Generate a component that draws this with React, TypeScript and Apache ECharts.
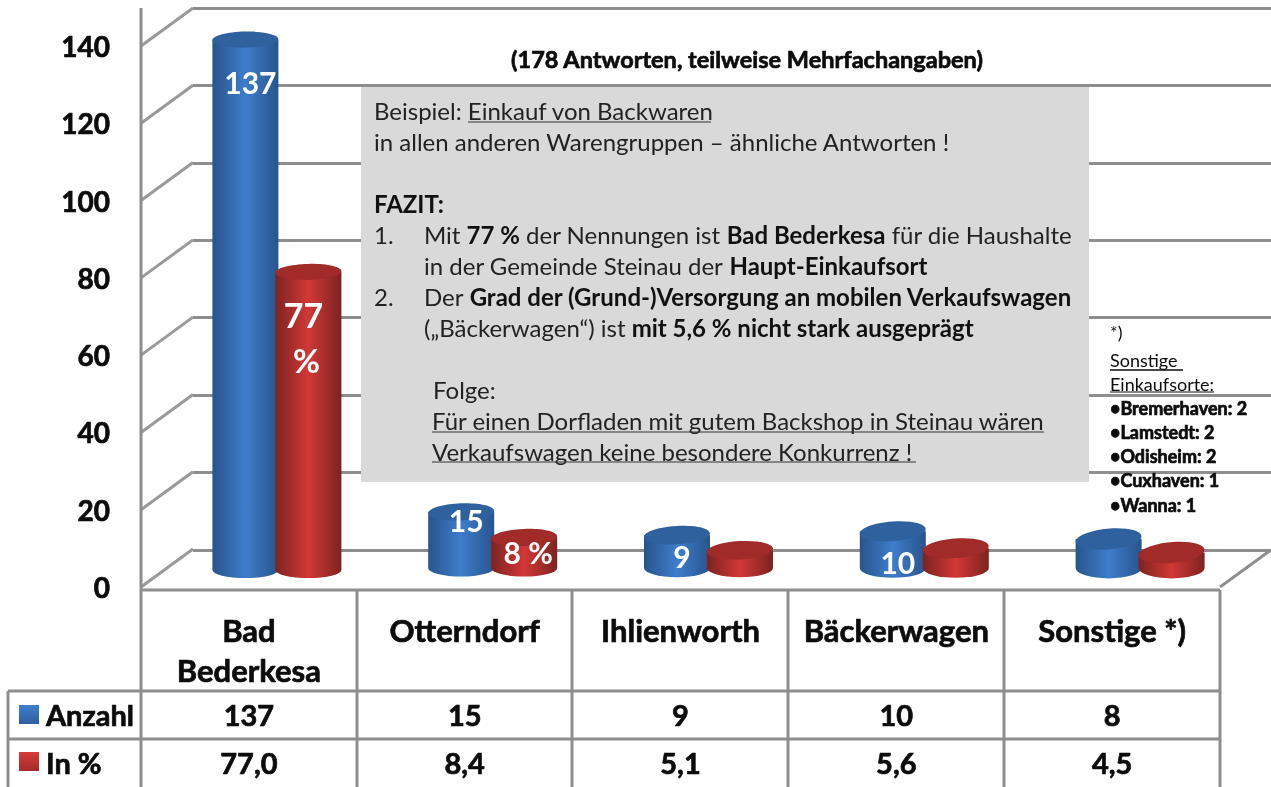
import React, { useEffect, useRef } from "react";
import * as echarts from "echarts";

const categories = ["Bad\nBederkesa", "Otterndorf", "Ihlienworth", "Bäckerwagen", "Sonstige *)"];
const anzahl = [137, 15, 9, 10, 8];
const inProzent = [77.0, 8.4, 5.1, 5.6, 4.5];
const anzahlText = ["137", "15", "9", "10", "8"];
const prozentText = ["77,0", "8,4", "5,1", "5,6", "4,5"];
const anzahlBarLabels = ["137", "15", "9", "10", ""];
const prozentBarLabels = ["77", "8 %", "", "", ""];
const yTicks = [0, 20, 40, 60, 80, 100, 120, 140];
const seriesNames = ["Anzahl", "In %"];
const subtitle = "(178 Antworten, teilweise Mehrfachangaben)";

const FONT = "Lato, 'Noto Sans', sans-serif";
const GREY = "#8e8e8e";
const INK = "#0c0c0c";
const W = 1271;
const H = 787;

// layout of the pseudo-3D planes
const FRONT = { left: 141, right: 1220, top: 46, zero: 587 };
const BARS = { left: 169, width: 1079, top: 28, zero: 570 };
const BACK = { left: 193, top: 8, zero: 550 };
const BAR_W = 66;

const vLines = [141, 357, 572, 788, 1004, 1220];
const THICK_AXIS = { textBorderColor: INK, textBorderWidth: 0.7 };
const THICK = { stroke: INK, lineWidth: 0.7 };

function cylinder(colors: { edge: string; mid: string; top: string }, side: -1 | 1, labels: string[], labelDy: number[]) {
  return (params: any, api: any) => {
    const i = api.value(0);
    const v = api.value(1);
    const [cx0, yTop] = api.coord([i, v]);
    const yBase = api.coord([i, 0])[1] - (i > 0 ? 2 : 0);
    const cx = cx0 + side * (BAR_W / 2 - 1.5);
    const rx = BAR_W / 2;
    const ry = 8 + i * 0.6;
    const tilt = 0.02 + i * 0.018;
    const x0 = cx - rx;
    const x1 = cx + rx;
    const fill = new echarts.graphic.LinearGradient(0, 0, 1, 0, [
      { offset: 0, color: colors.edge },
      { offset: 0.5, color: colors.mid },
      { offset: 1, color: colors.edge },
    ]);
    const children: any[] = [
      {
        type: "path",
        shape: {
          pathData: `M${x0},${yTop} L${x0},${yBase} A${rx},${ry} 0 0 0 ${x1},${yBase} L${x1},${yTop} Z`,
          x: x0,
          y: yTop,
          width: 2 * rx,
          height: yBase - yTop + ry,
          layout: "cover",
        },
        style: { fill },
      },
      {
        type: "ellipse",
        x: cx,
        y: yTop,
        rotation: tilt,
        shape: { cx: 0, cy: 0, rx, ry },
        style: { fill: colors.top },
      },
    ];
    const lab = labels[i];
    if (lab) {
      const big = lab === "77";
      children.push({
        type: "text",
        style: {
          text: lab,
          x: cx + (big ? -5 : side === 1 ? 4 : 5),
          y: yTop + labelDy[i],
          fill: "#ffffff",
          font: `bold ${big ? 34 : 30}px ${FONT}`,
          align: "center",
          verticalAlign: "middle",
        },
      });
      if (big) {
        children.push({
          type: "text",
          style: {
            text: "%",
            x: cx - 2,
            y: yTop + labelDy[i] + 45,
            fill: "#ffffff",
            font: `bold 33px ${FONT}`,
            align: "center",
            verticalAlign: "middle",
          },
        });
      }
    }
    return { type: "group", children };
  };
}

function App() {
  const ref = useRef<HTMLDivElement>(null);
  useEffect(() => {
    document.body.style.margin = "0";
    document.body.style.overflow = "hidden";
    const chart = echarts.init(ref.current!, undefined, { renderer: "svg", width: W, height: H });

    const line = (x1: number, y1: number, x2: number, y2: number, w = 3, color = GREY, z = 6) => ({
      type: "line",
      z,
      shape: { x1, y1, x2, y2 },
      style: { stroke: color, lineWidth: w },
    });
    const txt = (text: string, x: number, y: number, font: string, extra: any = {}) => ({
      type: "text",
      z: 8,
      style: { text, x, y, font, fill: INK, verticalAlign: "middle", ...extra },
    });
    const bodySize = 24;
    const n = `${bodySize}px ${FONT}`;
    const rich = {
      n: { font: n, fill: "#222222" },
      b: { font: `bold ${bodySize}px ${FONT}`, fill: "#111111" },
    };
    const para = (s: string, x: number, y: number) => ({
      type: "text",
      z: 8,
      style: { text: s, x, y, rich, verticalAlign: "middle", fill: "#222222", font: n },
    });
    const noteFont = `18px ${FONT}`;
    const noteBold = `bold 18px ${FONT}`;

    const graphic: any[] = [
      // axis frame and table rules
      line(141, 8, 141, H),
      line(141, 590, 1220, 590),
      line(1220, 587, W, 550),
      ...vLines.slice(1).map((x) => line(x, 590, x, H)),
      line(8, 691, 1220, 691),
      line(8, 739, 1220, 739),
      line(8, 691, 8, H),
      // grey note
      {
        type: "rect",
        z: 5,
        shape: { x: 361, y: 87, width: 728, height: 395 },
        style: { fill: "#d9d9d9" },
      },
      txt(subtitle, 747, 59, `bold 23.5px ${FONT}`, { align: "center", ...THICK }),
      para("{n|Beispiel: Einkauf von Backwaren}", 374, 110),
      para("{n|in allen anderen Warengruppen – ähnliche Antworten !}", 374, 141),
      para("{b|FAZIT:}", 374, 203),
      para("{n|1.}", 374, 234),
      para("{n|Mit }{b|77 %}{n| der Nennungen ist }{b|Bad Bederkesa}{n| für die Haushalte}", 424, 234),
      para("{n|in der Gemeinde Steinau der }{b|Haupt-Einkaufsort}", 424, 265),
      para("{n|2.}", 374, 296),
      para("{n|Der }{b|Grad der (Grund-)Versorgung an mobilen Verkaufswagen}", 424, 296),
      para("{n|(„Bäckerwagen“) ist }{b|mit 5,6 % nicht stark ausgeprägt}", 424, 327),
      para("{n|Folge:}", 433, 389),
      para("{n|Für einen Dorfladen mit gutem Backshop in Steinau wären}", 432, 420),
      para("{n|Verkaufswagen keine besondere Konkurrenz !}", 432, 451),
      line(468, 122, 711, 122, 1, "#333333", 8),
      line(432, 432, 1044, 432, 1, "#333333", 8),
      line(432, 462, 916, 462, 1, "#333333", 8),
      // footnote
      txt("*)", 1110, 332, noteFont),
      txt("Sonstige", 1110, 360, noteFont),
      txt("Einkaufsorte:", 1110, 384, noteFont),
      txt("•Bremerhaven: 2", 1110, 408, noteBold, THICK),
      txt("•Lamstedt: 2", 1110, 432, noteBold, THICK),
      txt("•Odisheim: 2", 1110, 456, noteBold, THICK),
      txt("•Cuxhaven: 1", 1110, 480, noteBold, THICK),
      txt("•Wanna: 1", 1110, 505, noteBold, THICK),
      line(1110, 370, 1183, 370, 1.5, INK, 8),
      line(1110, 392, 1214, 392, 1, INK, 8),
      // legend keys
      {
        type: "rect",
        z: 7,
        shape: { x: 19, y: 705, width: 20, height: 19 },
        style: {
          fill: new echarts.graphic.LinearGradient(0, 0, 0, 1, [
            { offset: 0, color: "#3f7fcf" },
            { offset: 1, color: "#2c5f9e" },
          ]),
        },
      },
      {
        type: "rect",
        z: 7,
        shape: { x: 19, y: 752, width: 20, height: 19 },
        style: {
          fill: new echarts.graphic.LinearGradient(0, 0, 0, 1, [
            { offset: 0, color: "#d83a38" },
            { offset: 1, color: "#a32c2a" },
          ]),
        },
      },
      txt(seriesNames[0], 46, 714, `bold 29px ${FONT}`, THICK),
      txt(seriesNames[1], 46, 762, `bold 29px ${FONT}`, THICK),
    ];

    const tableText = (rows: string[], y: number) => (params: any, api: any) => ({
      type: "text",
      style: {
        text: rows[api.value(0)],
        x: api.coord([api.value(0), 0])[0],
        y,
        font: `bold 29px ${FONT}`,
        fill: INK,
        align: "center",
        verticalAlign: "middle",
        ...THICK,
      },
    });
    const catData = categories.map((_, i) => [i, 0]);

    const option: any = {
      animation: false,
      backgroundColor: "#ffffff",
      textStyle: { fontFamily: FONT },
      grid: [
        { left: FRONT.left, width: FRONT.right - FRONT.left, top: FRONT.top, height: FRONT.zero - FRONT.top },
        { left: BACK.left, right: 0, top: BACK.top, height: BACK.zero - BACK.top },
        { left: BARS.left, width: BARS.width, top: BARS.top, height: BARS.zero - BARS.top },
      ],
      xAxis: [
        {
          gridIndex: 0,
          type: "category",
          data: categories,
          axisLine: { show: false },
          axisTick: { show: false },
          axisLabel: {
            margin: 23,
            fontFamily: FONT,
            fontWeight: "bold",
            fontSize: 31,
            lineHeight: 40,
            color: INK,
            interval: 0,
            ...THICK_AXIS,
          },
        },
        { gridIndex: 1, type: "category", data: categories, show: false },
        { gridIndex: 2, type: "category", data: categories, show: false },
      ],
      yAxis: [
        {
          gridIndex: 0,
          type: "value",
          min: 0,
          max: 140,
          interval: 20,
          axisLine: { show: false },
          axisTick: { show: false },
          splitLine: { show: false },
          axisLabel: {
            margin: 31,
            fontFamily: FONT,
            fontWeight: "bold",
            fontSize: 28,
            color: INK,
            padding: [13, 0, 0, 0],
            ...THICK_AXIS,
          },
        },
        {
          gridIndex: 1,
          type: "value",
          min: 0,
          max: 140,
          interval: 20,
          axisLine: { show: false },
          axisTick: { show: false },
          axisLabel: { show: false },
          splitLine: { show: true, lineStyle: { color: GREY, width: 3 } },
        },
        {
          gridIndex: 2,
          type: "value",
          min: 0,
          max: 140,
          interval: 20,
          axisLine: { show: false },
          axisTick: { show: false },
          axisLabel: { show: false },
          splitLine: { show: false },
        },
      ],
      series: [
        {
          type: "custom",
          name: "Wall",
          xAxisIndex: 0,
          yAxisIndex: 0,
          z: 1,
          clip: false,
          silent: true,
          data: yTicks.map((t) => [0, t]),
          encode: { x: 0, y: 1 },
          renderItem: (params: any, api: any) => {
            const y = api.coord([0, api.value(1)])[1];
            return {
              type: "line",
              shape: { x1: FRONT.left, y1: y, x2: BACK.left, y2: y - 38 },
              style: { stroke: "#9a9a9a", lineWidth: 3 },
            };
          },
        },
        {
          type: "custom",
          name: seriesNames[0],
          xAxisIndex: 2,
          yAxisIndex: 2,
          z: 2,
          clip: false,
          data: anzahl.map((v, i) => [i, v]),
          encode: { x: 0, y: 1 },
          renderItem: cylinder({ edge: "#28548c", mid: "#3e7dcc", top: "#2f619f" }, -1, anzahlBarLabels, [42, 8, 21, 31, 0]),
        },
        {
          type: "custom",
          name: seriesNames[1],
          xAxisIndex: 2,
          yAxisIndex: 2,
          z: 3,
          clip: false,
          data: inProzent.map((v, i) => [i, v]),
          encode: { x: 0, y: 1 },
          renderItem: cylinder({ edge: "#7c2321", mid: "#d23836", top: "#a02b29" }, 1, prozentBarLabels, [43, 15, 0, 0, 0]),
        },
        {
          type: "custom",
          name: "Tabelle Anzahl",
          xAxisIndex: 0,
          yAxisIndex: 0,
          z: 9,
          clip: false,
          data: catData,
          encode: { x: 0, y: 1 },
          renderItem: tableText(anzahlText, 714),
        },
        {
          type: "custom",
          name: "Tabelle Prozent",
          xAxisIndex: 0,
          yAxisIndex: 0,
          z: 9,
          clip: false,
          data: catData,
          encode: { x: 0, y: 1 },
          renderItem: tableText(prozentText, 762),
        },
      ],
      graphic: { elements: graphic },
    };
    chart.setOption(option);
    return () => chart.dispose();
  }, []);
  return (
    <div
      ref={ref}
      style={{ width: W, height: H, position: "absolute", left: 0, top: 0, background: "#fff", filter: "blur(0.5px)" }}
    />
  );
}

export default App;
